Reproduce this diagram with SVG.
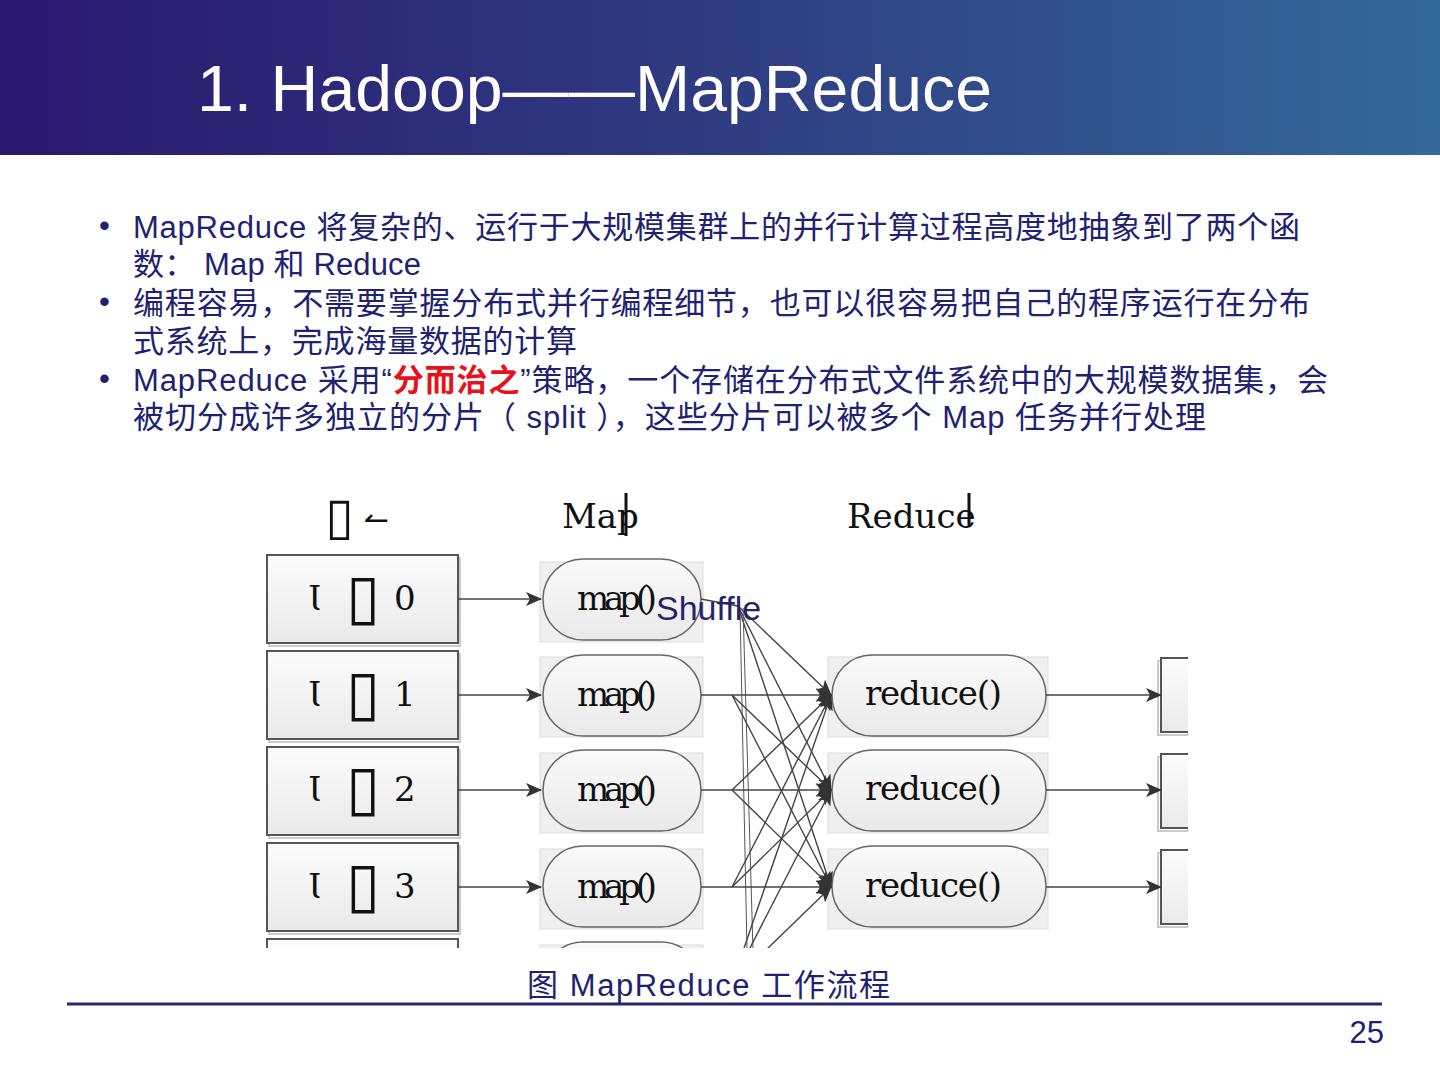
<svg xmlns="http://www.w3.org/2000/svg" width="1440" height="1080" viewBox="0 0 1440 1080">
<style>
.body{font-family:"Liberation Sans","Noto Sans CJK SC",sans-serif;font-size:31px;fill:#231f72}
.red{fill:#e8101a;font-weight:bold}
.ser{font-family:"DejaVu Serif","Noto Sans CJK SC",serif;font-size:34px;fill:#111}
.sym{font-family:"DejaVu Sans",sans-serif;fill:#111}
.box{fill:url(#gBox);stroke:#555;stroke-width:2}
.boxsh{fill:none;stroke:#bbb;stroke-width:1.5}
.bg{fill:#efefef;stroke:#dcdcdc;stroke-width:1}
.pill{fill:url(#gPill);stroke:#666;stroke-width:1.5}
.ln{fill:none;stroke:#444;stroke-width:1.4}
.lnt{fill:none;stroke:#555;stroke-width:1}
</style>
<defs>
<linearGradient id="gHead" x1="0" y1="0" x2="1" y2="0">
<stop offset="0" stop-color="#2a186e"/>
<stop offset="0.5" stop-color="#2f3c82"/>
<stop offset="1" stop-color="#33699a"/>
</linearGradient>
<linearGradient id="gBox" x1="0" y1="0" x2="0" y2="1">
<stop offset="0" stop-color="#fcfcfc"/>
<stop offset="1" stop-color="#eaeaea"/>
</linearGradient>
<linearGradient id="gPill" x1="0" y1="0" x2="0" y2="1">
<stop offset="0" stop-color="#fafafa"/>
<stop offset="1" stop-color="#e9e9e9"/>
</linearGradient>
<marker id="arr" markerUnits="userSpaceOnUse" markerWidth="16" markerHeight="14" refX="15" refY="7" orient="auto">
<path d="M0,0 L16,7 L0,14 L4,7 z" fill="#333"/>
</marker>
<clipPath id="clipD"><rect x="262" y="480" width="926" height="468"/></clipPath>
</defs>

<rect width="1440" height="1080" fill="#fff"/>
<g id="header">
<rect x="0" y="0" width="1440" height="155" fill="url(#gHead)"/>
<text x="197" y="111" font-family="Liberation Sans, sans-serif" font-size="64" fill="#fff" textLength="795" lengthAdjust="spacingAndGlyphs">1. Hadoop——MapReduce</text>
</g>

<g id="bullets">
<text x="99" y="236" class="body" font-size="24">•</text>
<text x="133" y="238" class="body" textLength="1167" lengthAdjust="spacing">MapReduce 将复杂的、运行于大规模集群上的并行计算过程高度地抽象到了两个函</text>
<text x="133" y="275" class="body" textLength="288" lengthAdjust="spacing">数： Map 和 Reduce</text>
<text x="99" y="312" class="body" font-size="24">•</text>
<text x="133" y="314" class="body" textLength="1177" lengthAdjust="spacing">编程容易，不需要掌握分布式并行编程细节，也可以很容易把自己的程序运行在分布</text>
<text x="133" y="352" class="body" textLength="444" lengthAdjust="spacing">式系统上，完成海量数据的计算</text>
<text x="99" y="389" class="body" font-size="24">•</text>
<text x="133" y="391" class="body" textLength="1195" lengthAdjust="spacing">MapReduce 采用“<tspan class="red">分而治之</tspan>”策略，一个存储在分布式文件系统中的大规模数据集，会</text>
<text x="133" y="428" class="body" textLength="1073" lengthAdjust="spacing">被切分成许多独立的分片（ split ），这些分片可以被多个 Map 任务并行处理</text>
</g>

<g id="diagram" clip-path="url(#clipD)">
<g id="col-heads">
<text x="325" y="534" class="sym" font-size="52">▯</text>
<text x="364" y="530" class="sym" font-size="30">↼</text>
<text x="562" y="528" class="ser" font-size="33">Map</text>
<line x1="626" y1="493" x2="626" y2="536" stroke="#111" stroke-width="3"/>
<text x="847" y="528" class="ser" font-size="35">Reduce</text>
<line x1="969" y1="493" x2="969" y2="527" stroke="#111" stroke-width="3"/>
</g>

<g id="split0"><rect x="269" y="558" width="191" height="88" class="boxsh"/><rect x="267" y="555" width="191" height="88" class="box"/>
<text x="308" y="610" class="ser" font-size="37">Ɩ</text><text x="346" y="618" class="sym" font-size="62">▯</text><text x="394" y="610" class="ser" font-size="37">0</text></g>
<g id="split1"><rect x="269" y="654" width="191" height="88" class="boxsh"/><rect x="267" y="651" width="191" height="88" class="box"/>
<text x="308" y="706" class="ser" font-size="37">Ɩ</text><text x="346" y="714" class="sym" font-size="62">▯</text><text x="394" y="706" class="ser" font-size="37">1</text></g>
<g id="split2"><rect x="269" y="750" width="191" height="88" class="boxsh"/><rect x="267" y="747" width="191" height="88" class="box"/>
<text x="308" y="801" class="ser" font-size="37">Ɩ</text><text x="346" y="809" class="sym" font-size="62">▯</text><text x="394" y="801" class="ser" font-size="37">2</text></g>
<g id="split3"><rect x="269" y="846" width="191" height="88" class="boxsh"/><rect x="267" y="843" width="191" height="88" class="box"/>
<text x="308" y="898" class="ser" font-size="37">Ɩ</text><text x="346" y="906" class="sym" font-size="62">▯</text><text x="394" y="898" class="ser" font-size="37">3</text></g>
<g id="split4"><rect x="267" y="939" width="191" height="88" class="box"/></g>

<g id="map0"><rect x="540" y="562" width="163" height="80" class="bg"/><rect x="543" y="559" width="158" height="81" rx="40" class="pill"/>
<text x="577" y="610" class="ser" textLength="80" lengthAdjust="spacing">map()</text></g>
<g id="map1"><rect x="540" y="657" width="163" height="80" class="bg"/><rect x="543" y="655" width="158" height="81" rx="40" class="pill"/>
<text x="577" y="706" class="ser" textLength="80" lengthAdjust="spacing">map()</text></g>
<g id="map2"><rect x="540" y="753" width="163" height="80" class="bg"/><rect x="543" y="750" width="158" height="81" rx="40" class="pill"/>
<text x="577" y="801" class="ser" textLength="80" lengthAdjust="spacing">map()</text></g>
<g id="map3"><rect x="540" y="849" width="163" height="80" class="bg"/><rect x="543" y="846" width="158" height="81" rx="40" class="pill"/>
<text x="577" y="898" class="ser" textLength="80" lengthAdjust="spacing">map()</text></g>
<g id="map4"><rect x="540" y="945" width="163" height="80" class="bg"/><rect x="543" y="942" width="158" height="81" rx="40" class="pill"/></g>

<g id="reduce0"><rect x="828" y="657" width="220" height="80" class="bg"/><rect x="832" y="655" width="214" height="81" rx="40" class="pill"/>
<text x="865" y="705" class="ser" textLength="137" lengthAdjust="spacing">reduce()</text></g>
<g id="reduce1"><rect x="828" y="753" width="220" height="80" class="bg"/><rect x="832" y="750" width="214" height="81" rx="40" class="pill"/>
<text x="865" y="800" class="ser" textLength="137" lengthAdjust="spacing">reduce()</text></g>
<g id="reduce2"><rect x="828" y="849" width="220" height="80" class="bg"/><rect x="832" y="846" width="214" height="81" rx="40" class="pill"/>
<text x="865" y="897" class="ser" textLength="137" lengthAdjust="spacing">reduce()</text></g>

<g id="out0"><rect x="1158" y="661" width="30" height="74" class="boxsh"/><rect x="1161" y="658" width="30" height="74" class="box"/></g>
<g id="out1"><rect x="1158" y="757" width="30" height="74" class="boxsh"/><rect x="1161" y="754" width="30" height="74" class="box"/></g>
<g id="out2"><rect x="1158" y="853" width="30" height="74" class="boxsh"/><rect x="1161" y="850" width="30" height="74" class="box"/></g>

<g id="connectors">
<line x1="458" y1="599" x2="541" y2="599" class="ln" marker-end="url(#arr)"/>
<line x1="458" y1="695" x2="541" y2="695" class="ln" marker-end="url(#arr)"/>
<line x1="458" y1="790" x2="541" y2="790" class="ln" marker-end="url(#arr)"/>
<line x1="458" y1="887" x2="541" y2="887" class="ln" marker-end="url(#arr)"/>

<polyline points="701,599 738,606" class="ln"/>
<line x1="738" y1="606" x2="831" y2="695" class="ln" marker-end="url(#arr)"/>
<line x1="738" y1="606" x2="831" y2="790" class="ln" marker-end="url(#arr)"/>
<line x1="738" y1="606" x2="831" y2="887" class="ln" marker-end="url(#arr)"/>
<line x1="740" y1="608" x2="747" y2="950" class="lnt"/>
<line x1="743" y1="608" x2="753" y2="950" class="lnt"/>

<line x1="701" y1="695" x2="831" y2="695" class="ln" marker-end="url(#arr)"/>
<line x1="732" y1="695" x2="831" y2="790" class="ln" marker-end="url(#arr)"/>
<line x1="732" y1="695" x2="831" y2="887" class="ln" marker-end="url(#arr)"/>

<line x1="701" y1="790" x2="831" y2="790" class="ln" marker-end="url(#arr)"/>
<line x1="732" y1="790" x2="831" y2="695" class="ln" marker-end="url(#arr)"/>
<line x1="732" y1="790" x2="831" y2="887" class="ln" marker-end="url(#arr)"/>

<line x1="701" y1="887" x2="831" y2="887" class="ln" marker-end="url(#arr)"/>
<line x1="732" y1="887" x2="831" y2="695" class="ln" marker-end="url(#arr)"/>
<line x1="732" y1="887" x2="831" y2="790" class="ln" marker-end="url(#arr)"/>

<line x1="732" y1="983" x2="831" y2="695" class="ln" marker-end="url(#arr)"/>
<line x1="732" y1="983" x2="831" y2="790" class="ln" marker-end="url(#arr)"/>
<line x1="732" y1="983" x2="831" y2="887" class="ln" marker-end="url(#arr)"/>

<line x1="1046" y1="695" x2="1161" y2="695" class="ln" marker-end="url(#arr)"/>
<line x1="1046" y1="790" x2="1161" y2="790" class="ln" marker-end="url(#arr)"/>
<line x1="1046" y1="887" x2="1161" y2="887" class="ln" marker-end="url(#arr)"/>
</g>
</g>

<text x="656" y="620" font-family="Liberation Sans, sans-serif" font-size="34" fill="#2a1f6e">Shuffle</text>

<g id="footer">
<text x="527" y="996" class="body" font-size="28" textLength="363" lengthAdjust="spacing">图   MapReduce 工作流程</text>
<line x1="67" y1="1004" x2="1382" y2="1004" stroke="#2a2470" stroke-width="3"/>
<text x="1384" y="1043" class="body" font-size="28" text-anchor="end">25</text>
</g>
</svg>
